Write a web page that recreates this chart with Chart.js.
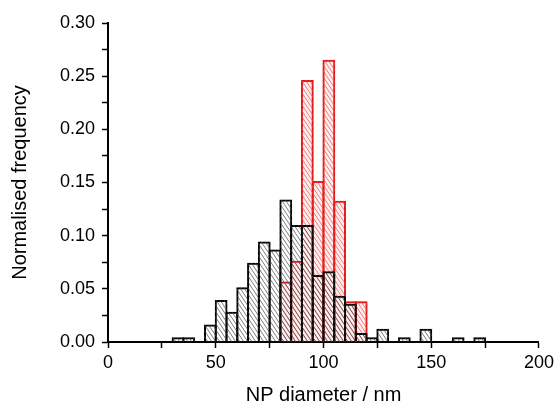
<!DOCTYPE html>
<html>
<head>
<meta charset="utf-8">
<script src="https://cdn.jsdelivr.net/npm/chart.js@4/dist/chart.umd.min.js"></script>
<style>
  html, body { margin: 0; padding: 0; background: #fff; }
  #wrap { width: 558px; height: 405px; }
</style>
</head>
<body>
<div id="wrap"><canvas id="c" width="558" height="405"></canvas></div>
<script>
// Bin start values (nm), bin width 5 nm
const binWidth = 5;
const blackBinStarts = [30,35,40,45,50,55,60,65,70,75,80,85,90,95,100,105,110,115,120,125,130,135,140,145,150,155,160,165,170];
const blackFreq =      [0.0035,0.0035,0,0.0155,0.0385,0.0275,0.0505,0.0735,0.0935,0.0860,0.1330,0.1090,0.1090,0.0620,0.0655,0.0425,0.0350,0.0075,0.0035,0.0115,0,0.0035,0,0.0115,0,0,0.0035,0,0.0035];
const redBinStarts = [80,85,90,95,100,105,110,115];
const redFreq =      [0.0560,0.0755,0.2455,0.1505,0.2645,0.1320,0.0375,0.0375];
const xTicks = [0,50,100,150,200];
const yTicks = [0.00,0.05,0.10,0.15,0.20,0.25,0.30];

function toPoints(starts, vals) {
  return starts.map((s, i) => ({ x: s + binWidth / 2, y: vals[i] > 0 ? vals[i] : null }));
}

function hatch(bg, line, lw) {
  const w = 4, h = 6;
  const c = document.createElement('canvas');
  c.width = w; c.height = h;
  const g = c.getContext('2d');
  if (bg) { g.fillStyle = bg; g.fillRect(0, 0, w, h); }
  g.strokeStyle = line;
  g.lineWidth = lw;
  for (let k = -2; k <= 2; k++) {
    for (let j = -1; j <= 1; j++) {
      g.beginPath();
      g.moveTo(k * w, j * h);
      g.lineTo(k * w + w, j * h + h);
      g.stroke();
    }
  }
  return g.createPattern(c, 'repeat');
}

const blackPattern = hatch(null, 'rgba(70,70,70,0.7)', 1);
const redPattern = hatch('rgba(255,140,140,0.15)', 'rgba(225,80,80,0.7)', 1);

const fontFam = '"Liberation Sans", Arial, Helvetica, sans-serif';

// tiny border + inflate => a ~2px outline centred on each bin edge
const barStyle = { borderWidth: 0.01, inflateAmount: 1.0, borderSkipped: 'start', barPercentage: 1, categoryPercentage: 1, grouped: false };

new Chart(document.getElementById('c'), {
  type: 'bar',
  data: {
    datasets: [
      Object.assign({
        label: 'black',
        data: toPoints(blackBinStarts, blackFreq),
        backgroundColor: blackPattern,
        borderColor: '#000'
      }, barStyle),
      Object.assign({
        label: 'red',
        data: toPoints(redBinStarts, redFreq),
        backgroundColor: redPattern,
        borderColor: '#e00000'
      }, barStyle)
    ]
  },
  options: {
    responsive: false,
    animation: false,
    events: [],
    layout: { padding: { top: 23, right: 19, left: 0, bottom: 0 } },
    plugins: { legend: { display: false }, tooltip: { enabled: false } },
    scales: {
      x: {
        type: 'linear',
        min: 0, max: 200,
        offset: false,
        z: 1,
        grid: { offset: false, drawOnChartArea: false, drawTicks: true, tickLength: 6, tickWidth: 1.5, tickColor: '#000' },
        border: { display: true, color: '#000', width: 2 },
        ticks: {
          stepSize: 25,
          autoSkip: false,
          maxRotation: 0,
          padding: 4,
          color: '#000',
          font: { family: fontFam, size: 18 },
          callback: (v) => xTicks.includes(v) ? String(v) : ''
        },
        title: {
          display: true,
          text: 'NP diameter / nm',
          color: '#000',
          font: { family: fontFam, size: 20, lineHeight: 1 },
          padding: { top: 0, bottom: 0 }
        },
        afterFit: (s) => { s.height = 63; }
      },
      y: {
        min: 0, max: 0.30,
        z: 1,
        grid: { drawOnChartArea: false, drawTicks: true, tickLength: 6, tickWidth: 1.5, tickColor: '#000' },
        border: { display: true, color: '#000', width: 2 },
        ticks: {
          stepSize: 0.025,
          autoSkip: false,
          padding: 7,
          color: '#000',
          font: { family: fontFam, size: 18 },
          callback: (v) => {
            const m = Math.round(v * 1000);
            return (m % 50 === 0) ? (m / 1000).toFixed(2) : '';
          }
        },
        title: {
          display: true,
          text: 'Normalised frequency',
          color: '#000',
          font: { family: fontFam, size: 20, lineHeight: 1 },
          padding: { top: 10, bottom: 0 }
        },
        afterFit: (s) => { s.width = 108; }
      }
    }
  }
});
</script>
</body>
</html>
